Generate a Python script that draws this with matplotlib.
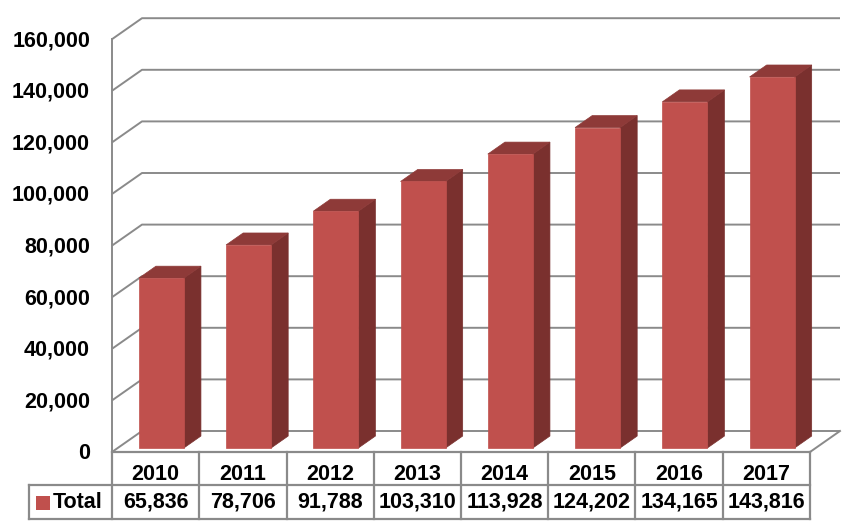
import matplotlib
matplotlib.use("Agg")
import matplotlib.pyplot as plt
from matplotlib.patches import Polygon, Rectangle

years = ["2010", "2011", "2012", "2013", "2014", "2015", "2016", "2017"]
totals = [65836, 78706, 91788, 103310, 113928, 124202, 134165, 143816]
series_name = "Total"
y_ticks = [0, 20000, 40000, 60000, 80000, 100000, 120000, 140000, 160000]

plt.rcParams['font.family'] = ['Liberation Sans', 'DejaVu Sans']

W, H = 860, 527
fig = plt.figure(figsize=(W / 100, H / 100), dpi=100)
ax = fig.add_axes([0, 0, 1, 1])
ax.set_axis_off()

# pixel geometry of the plot (category width, value scale)
x0_px, y0_px = 112, 452
cat_px = 87.25
px_per_20k = 51.6
val_per_px = 20000 / px_per_20k
ax.set_xlim(-x0_px / cat_px, (W - x0_px) / cat_px)
ax.set_ylim(-(H - y0_px) * val_per_px, y0_px * val_per_px)

n = len(years)
DX = 30 / cat_px
DY = 21 * val_per_px
grid_c = '#8a8a8a'
glw = 1.4

# gridlines on back wall + diagonal to front axis
for g in y_ticks:
    ax.plot([0, DX, n + DX], [g, g + DY, g + DY], color=grid_c, lw=glw,
            solid_capstyle='butt', zorder=1)
    ax.text(-22 / cat_px, g - 1.5 * val_per_px, f"{g:,}", ha='right', va='center',
            fontsize=15.5, fontweight='bold', color='black')
# front left axis
ax.plot([0, 0], [0, y_ticks[-1]], color=grid_c, lw=glw, zorder=1)
# floor right diagonal
ax.plot([n, n + DX], [0, DY], color=grid_c, lw=glw, zorder=1)

# bars
front_c = '#C0504D'
top_c = '#8E3A38'
side_c = '#7A302E'
w = 0.516
d0, d1 = 0.19, 0.76
for i, v in enumerate(totals):
    c = i + 0.5
    xl, xr = c - w / 2, c + w / 2
    fx, fy = d0 * DX, d0 * DY
    bx, by = d1 * DX, d1 * DY
    side = Polygon([(xr + fx, fy), (xr + bx, by), (xr + bx, v + by), (xr + fx, v + fy)],
                   closed=True, facecolor=side_c, edgecolor=side_c, lw=0.5, zorder=3)
    top = Polygon([(xl + fx, v + fy), (xr + fx, v + fy), (xr + bx, v + by), (xl + bx, v + by)],
                  closed=True, facecolor=top_c, edgecolor=top_c, lw=0.5, zorder=3)
    front = Rectangle((xl + fx, fy), w, v, facecolor=front_c, edgecolor=front_c,
                      lw=0.5, zorder=4)
    ax.add_patch(side)
    ax.add_patch(top)
    ax.add_patch(front)

# data table
r1 = -(485 - y0_px) * val_per_px
r2 = -(519 - y0_px) * val_per_px
leg_x = (29 - x0_px) / cat_px
tlc = '#8a8a8a'
tlw = 1.6
ax.plot([0, n], [0, 0], color=tlc, lw=tlw, zorder=2)
ax.plot([leg_x, n], [r1, r1], color=tlc, lw=tlw, zorder=2)
ax.plot([leg_x, n], [r2, r2], color=tlc, lw=tlw, zorder=2)
for k in range(n + 1):
    ax.plot([k, k], [0, r2], color=tlc, lw=tlw, zorder=2)
ax.plot([leg_x, leg_x], [r1, r2], color=tlc, lw=tlw, zorder=2)

for i, (yr, v) in enumerate(zip(years, totals)):
    ax.text(i + 0.5, -474 * val_per_px + y0_px * val_per_px, yr, ha='center', va='center',
            fontsize=15.5, fontweight='bold', color='black')
    ax.text(i + 0.5, (r1 + r2) / 2, f"{v:,}", ha='center', va='center',
            fontsize=15.5, fontweight='bold', color='black')

# legend key in table
sq_x0 = (36 - x0_px) / cat_px
sq_x1 = (50 - x0_px) / cat_px
sq_y0 = -(510 - y0_px) * val_per_px
sq_y1 = -(496 - y0_px) * val_per_px
ax.add_patch(Rectangle((sq_x0, sq_y0), sq_x1 - sq_x0, sq_y1 - sq_y0,
                       facecolor=front_c, edgecolor='none', zorder=3))
ax.text((53 - x0_px) / cat_px, (r1 + r2) / 2, series_name, ha='left', va='center',
        fontsize=15.5, fontweight='bold', color='black')

fig.savefig("out.png", dpi=100)
